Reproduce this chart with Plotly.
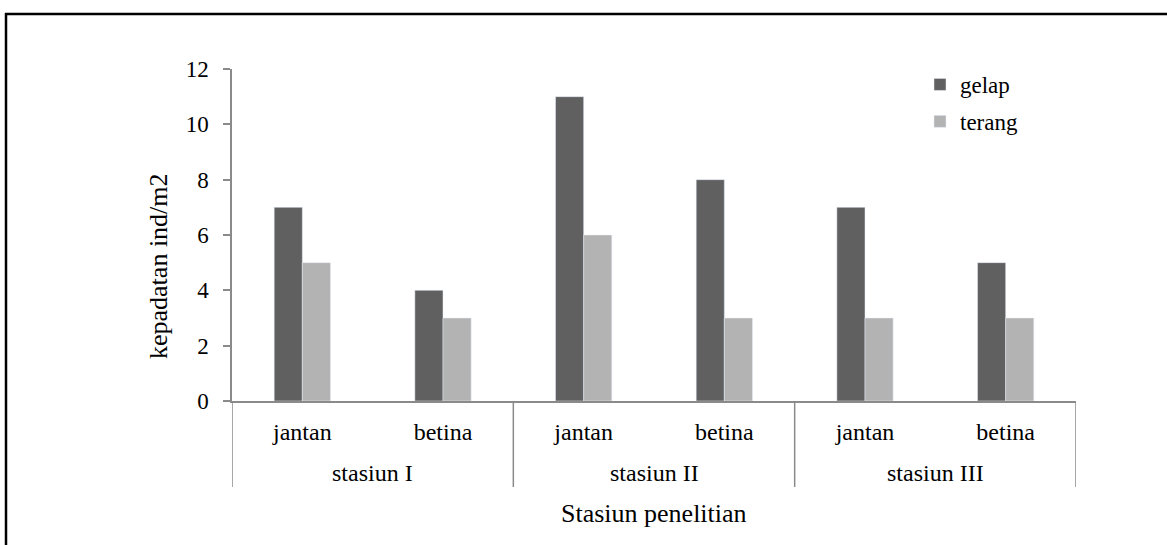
import plotly.graph_objects as go

stations = ["stasiun I", "stasiun II", "stasiun III"]
sexes = ["jantan", "betina", "jantan", "betina", "jantan", "betina"]
station_of_bar = [0, 0, 1, 1, 2, 2]
gelap = [7, 4, 11, 8, 7, 5]
terang = [5, 3, 6, 3, 3, 3]
y_ticks = [0, 2, 4, 6, 8, 10, 12]

W, H = 1167, 545
L, R, T, B = 232, 91, 69, 144
pw, ph = W - L - R, H - T - B

def px(x):
    return (x - L) / pw

def py(y):
    return (H - B - y) / ph

font = "Liberation Serif, Times New Roman, serif"
axis_gray = "#8a8a8a"
x_pos = list(range(len(sexes)))

fig = go.Figure()
fig.add_trace(go.Bar(x=x_pos, y=gelap, name="gelap", marker_color="#606060",
                     legendgroup="g"))
fig.add_trace(go.Bar(x=x_pos, y=terang, name="terang", marker_color="#b3b3b3",
                     legendgroup="t"))

fig.update_layout(
    width=W, height=H,
    margin=dict(l=L, r=R, t=T, b=B, autoexpand=False),
    paper_bgcolor="white", plot_bgcolor="white",
    font=dict(family=font, size=24, color="black"),
    barmode="group", bargap=0.6, bargroupgap=0,
    showlegend=True,
    legend=dict(x=px(920), y=py(63), xanchor="left", yanchor="top",
                font=dict(size=23), bgcolor="rgba(0,0,0,0)",
                tracegroupgap=4, traceorder="grouped"),
    xaxis=dict(
        range=[-0.5, len(sexes) - 0.5],
        tickvals=x_pos, ticktext=sexes,
        showline=True, linecolor=axis_gray, linewidth=1.5,
        ticks="", showgrid=False, zeroline=False,
        tickfont=dict(size=24), ticklabelstandoff=8,
    ),
    yaxis=dict(
        range=[0, 12], tickvals=y_ticks,
        showline=True, linecolor=axis_gray, linewidth=1.5,
        ticks="outside", ticklen=7, tickcolor=axis_gray, tickwidth=1.5,
        showgrid=False, zeroline=False,
        tickfont=dict(size=23), ticklabelstandoff=10,
    ),
)

# group labels and dividers for the two-level category axis
for i, st in enumerate(stations):
    members = [k for k, s in enumerate(station_of_bar) if s == i]
    center = (members[0] + members[-1]) / 2
    fig.add_annotation(x=center, xref="x", y=py(473), yref="paper",
                       text=st, showarrow=False, yanchor="middle",
                       font=dict(size=24))
    fig.add_shape(type="line", xref="x", yref="paper",
                  x0=members[0] - 0.5, x1=members[0] - 0.5, y0=0, y1=py(487),
                  line=dict(color=axis_gray, width=1.5))
fig.add_shape(type="line", xref="x", yref="paper",
              x0=len(sexes) - 0.5, x1=len(sexes) - 0.5, y0=0, y1=py(487),
              line=dict(color=axis_gray, width=1.5))

# axis titles
fig.add_annotation(x=0.5, xref="paper", y=py(513), yref="paper",
                   text="Stasiun penelitian", showarrow=False,
                   yanchor="middle", font=dict(size=26))
fig.add_annotation(x=px(158), xref="paper", y=py(266), yref="paper",
                   text="kepadatan ind/m2", showarrow=False, textangle=-90,
                   xanchor="center", yanchor="middle", font=dict(size=26))

# outer frame (left and top edges)
fig.add_shape(type="line", xref="paper", yref="paper",
              x0=px(6), x1=px(6), y0=py(13), y1=py(570),
              line=dict(color="black", width=2.5))
fig.add_shape(type="line", xref="paper", yref="paper",
              x0=px(5), x1=px(1190), y0=py(14), y1=py(14),
              line=dict(color="black", width=2.5))

fig.write_html("out.html", config={"displayModeBar": False},
               post_script="document.body.style.margin='0';document.body.style.overflow='hidden';")
